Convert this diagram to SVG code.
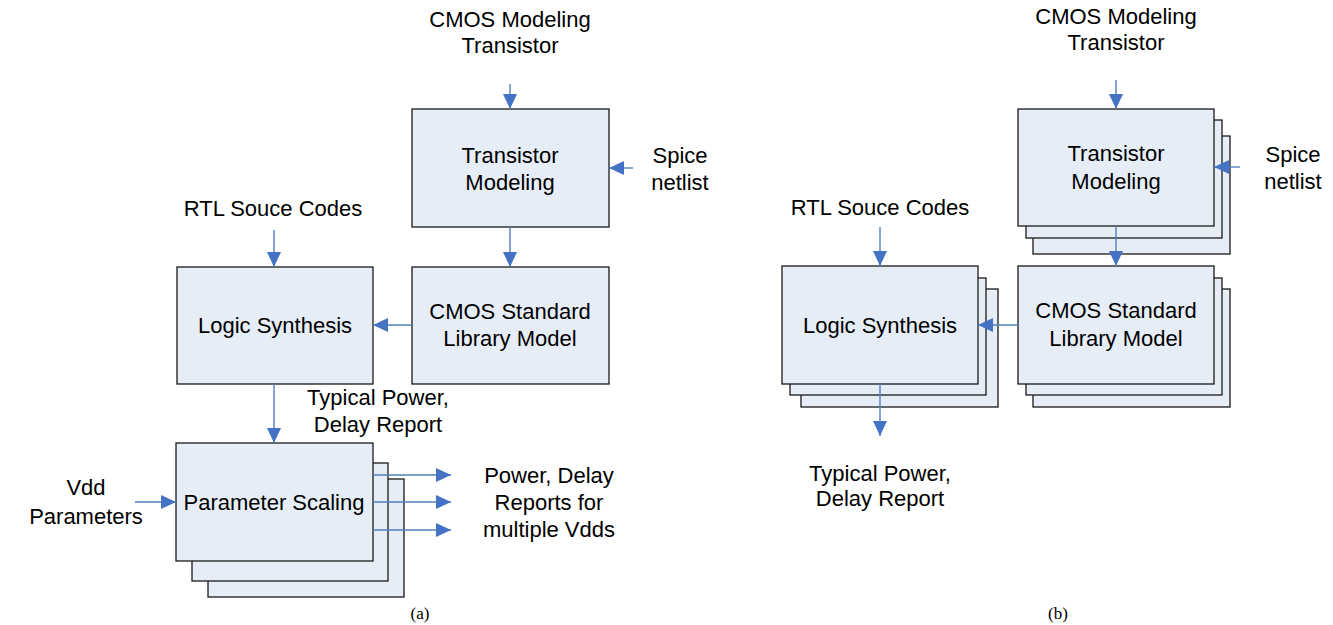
<svg xmlns="http://www.w3.org/2000/svg" width="1333" height="625" viewBox="0 0 1333 625">
<style>
.box{fill:#E7EDF7;stroke:#1a1a1a;stroke-width:1.3}
.t{font-family:"Liberation Sans",Arial,sans-serif;font-size:22px;fill:#000;text-anchor:middle}
.cap{font-family:"Liberation Serif","Times New Roman",serif;font-size:17px;fill:#000;text-anchor:middle}
.c{stroke:#4F81BD;stroke-width:1.4;fill:none;marker-end:url(#ah)}
</style>
<defs>
<marker id="ah" markerUnits="userSpaceOnUse" markerWidth="16" markerHeight="14" refX="15" refY="7" orient="auto">
<path d="M0,0 L15,7 L0,14 Z" fill="#4472C4"/>
</marker>
</defs>
<rect width="1333" height="625" fill="#fff"/>

<!-- (a) -->
<g id="a-transistor"><rect class="box" x="412" y="109" width="197" height="118"/>
<text class="t" x="510" y="163">Transistor</text><text class="t" x="510" y="190">Modeling</text></g>
<g id="a-cmos"><rect class="box" x="412" y="267" width="197" height="117"/>
<text class="t" x="510" y="319">CMOS Standard</text><text class="t" x="510" y="346">Library Model</text></g>
<g id="a-logic"><rect class="box" x="177" y="267" width="196" height="117"/>
<text class="t" x="275" y="333">Logic Synthesis</text></g>
<g id="a-param"><rect class="box" x="208" y="479" width="196" height="118"/>
<rect class="box" x="192" y="463" width="196" height="118"/>
<rect class="box" x="176" y="443" width="197" height="118"/>
<text class="t" x="274" y="510">Parameter Scaling</text></g>
<g id="a-labels">
<text class="t" x="510" y="27">CMOS Modeling</text><text class="t" x="510" y="53">Transistor</text>
<text class="t" x="680" y="163">Spice</text><text class="t" x="680" y="190">netlist</text>
<text class="t" x="273" y="216">RTL Souce Codes</text>
<text class="t" x="378" y="405">Typical Power,</text><text class="t" x="378" y="432">Delay Report</text>
<text class="t" x="549" y="483">Power, Delay</text><text class="t" x="549" y="510">Reports for</text><text class="t" x="549" y="537">multiple Vdds</text>
<text class="t" x="86" y="495">Vdd</text><text class="t" x="86" y="524">Parameters</text>
<text class="cap" x="420" y="619">(a)</text>
</g>

<!-- (b) -->
<g id="b-transistor"><rect class="box" x="1033" y="136" width="197" height="118"/>
<rect class="box" x="1026" y="120" width="196" height="118"/>
<rect class="box" x="1018" y="109" width="196" height="117"/>
<text class="t" x="1116" y="161">Transistor</text><text class="t" x="1116" y="189">Modeling</text></g>
<g id="b-cmos"><rect class="box" x="1033" y="289" width="197" height="118"/>
<rect class="box" x="1026" y="278" width="196" height="117"/>
<rect class="box" x="1018" y="266" width="196" height="118"/>
<text class="t" x="1116" y="318">CMOS Standard</text><text class="t" x="1116" y="346">Library Model</text></g>
<g id="b-logic"><rect class="box" x="801" y="289" width="197" height="118"/>
<rect class="box" x="790" y="278" width="196" height="117"/>
<rect class="box" x="782" y="266" width="196" height="118"/>
<text class="t" x="880" y="333">Logic Synthesis</text></g>
<g id="b-labels">
<text class="t" x="1116" y="24">CMOS Modeling</text><text class="t" x="1116" y="50">Transistor</text>
<text class="t" x="1293" y="162">Spice</text><text class="t" x="1293" y="189">netlist</text>
<text class="t" x="880" y="215">RTL Souce Codes</text>
<text class="t" x="880" y="481">Typical Power,</text><text class="t" x="880" y="506">Delay Report</text>
<text class="cap" x="1058" y="619">(b)</text>
</g>

<g id="connectors">
<line class="c" x1="510" y1="84" x2="510" y2="109"/>
<line class="c" x1="510" y1="227" x2="510" y2="267"/>
<line class="c" x1="633" y1="168" x2="609" y2="168"/>
<line class="c" x1="412" y1="325" x2="373" y2="325"/>
<line class="c" x1="274" y1="230" x2="274" y2="267"/>
<line class="c" x1="274" y1="384" x2="274" y2="443"/>
<line class="c" x1="135" y1="502" x2="176" y2="502"/>
<line class="c" x1="373" y1="475" x2="451" y2="475"/>
<line class="c" x1="373" y1="502" x2="451" y2="502"/>
<line class="c" x1="373" y1="530" x2="451" y2="530"/>

<line class="c" x1="1116" y1="80" x2="1116" y2="109"/>
<line class="c" x1="1116" y1="226" x2="1116" y2="266"/>
<line class="c" x1="1240" y1="167" x2="1214" y2="167"/>
<line class="c" x1="1018" y1="325" x2="978" y2="325"/>
<line class="c" x1="880" y1="227" x2="880" y2="266"/>
<line class="c" x1="880" y1="384" x2="880" y2="436"/>
</g>
</svg>
